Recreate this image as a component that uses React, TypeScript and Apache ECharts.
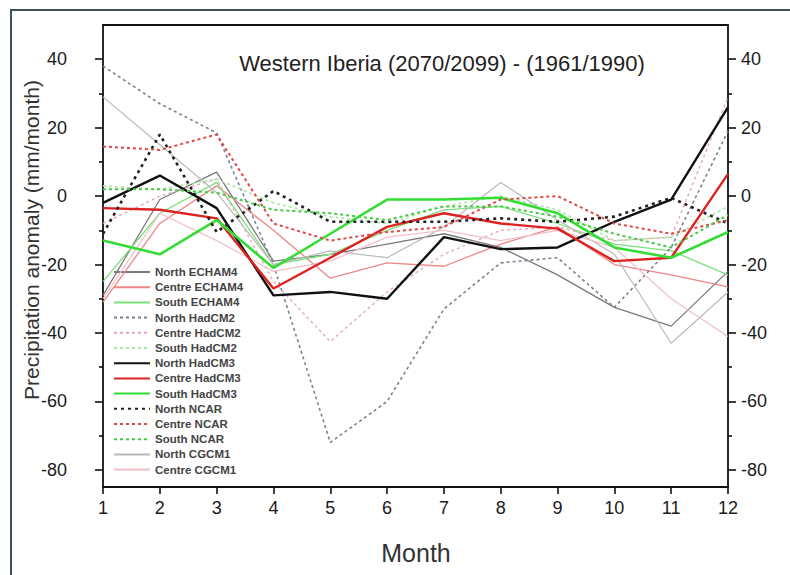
import React, { useEffect, useRef } from 'react';
import * as echarts from 'echarts';

const months = [1, 2, 3, 4, 5, 6, 7, 8, 9, 10, 11, 12];
const yTicks = [-80, -60, -40, -20, 0, 20, 40];

const northECHAM4 = [-29, -1, 7, -19, -17, -14, -11, -15, -23, -32.5, -38, -22];
const centreECHAM4 = [-31, -8, 3, -10, -24, -19.5, -20.5, -14, -9, -20, -23, -26.5];
const southECHAM4 = [-25, -5, 4, -20, -17, -10, -4, -3, -8, -14, -16, -23];
const northHadCM2 = [38, 27, 18.5, -20, -72, -60, -33, -19.5, -18, -32.5, -15, 19];
const centreHadCM2 = [-8, 0, 5, -25, -42.5, -28, -17, -10, -9, -13, -12, 29];
const southHadCM2 = [3, 2, 5, -2, -6, -8, -3, 0, -4, -13, -12, -3];
const northHadCM3 = [-2, 6, -3.5, -29, -28, -30, -12, -15.5, -15, -7.5, -1, 26];
const centreHadCM3 = [-3.5, -4, -6.5, -27, -18, -9, -5, -8, -9.5, -19, -18, 6.5];
const southHadCM3 = [-13, -17, -7, -21, -11, -1, -1, -0.5, -5, -15, -18, -10.5];
const northNCAR = [-11, 18, -10.5, 1.5, -7.5, -7.5, -7.5, -6.5, -7.5, -6, -0.5, -8];
const centreNCAR = [14.5, 13.5, 18, -8, -13, -10.5, -9, -1, 0, -8, -11, -7];
const southNCAR = [2, 2, 1, -4, -5, -7, -3, -3, -6, -11, -15, -5.5];
const northCGCM1 = [29, 15, 1, -20, -16, -18, -9, 4, -7, -17, -43, -28];
const centreCGCM1 = [-30, -5, -13, -22, -19, -12, -10, -13, -10, -15, -30, -41];

const seriesNames = [
  'North ECHAM4', 'Centre ECHAM4', 'South ECHAM4',
  'North HadCM2', 'Centre HadCM2', 'South HadCM2',
  'North HadCM3', 'Centre HadCM3', 'South HadCM3',
  'North NCAR', 'Centre NCAR', 'South NCAR',
  'North CGCM1', 'Centre CGCM1',
];
const seriesValues = [
  northECHAM4, centreECHAM4, southECHAM4,
  northHadCM2, centreHadCM2, southHadCM2,
  northHadCM3, centreHadCM3, southHadCM3,
  northNCAR, centreNCAR, southNCAR,
  northCGCM1, centreCGCM1,
];

// styles per series (same order)
const styles = [
  { color: '#7a7a7a', width: 1.3, dash: 'solid' },
  { color: '#ee8686', width: 1.3, dash: 'solid' },
  { color: '#7ae07a', width: 1.3, dash: 'solid' },
  { color: '#7a8292', width: 1.6, dash: [3, 3] },
  { color: '#e8a8b8', width: 1.4, dash: [3, 3] },
  { color: '#a8e8a0', width: 1.6, dash: [3, 3] },
  { color: '#111111', width: 2.4, dash: 'solid' },
  { color: '#dd2222', width: 2.4, dash: 'solid' },
  { color: '#33dd33', width: 2.6, dash: 'solid' },
  { color: '#222222', width: 2.6, dash: [3, 4] },
  { color: '#e04848', width: 2, dash: [3, 3] },
  { color: '#44cc44', width: 2, dash: [3, 3] },
  { color: '#bababa', width: 1.2, dash: 'solid' },
  { color: '#f0c0c8', width: 1.2, dash: 'solid' },
];

const FONT = 'Liberation Sans, Arial, sans-serif';

export default function App() {
  const ref = useRef<HTMLDivElement>(null);
  useEffect(() => {
    const chart = echarts.init(ref.current!, null, { renderer: 'svg' });
    const series = seriesNames.map((name, k) => ({
      name,
      type: 'line',
      xAxisIndex: 0,
      yAxisIndex: 0,
      symbol: 'none',
      z: 10 + (k >= 6 && k <= 11 ? 5 : 0),
      lineStyle: { color: styles[k].color, width: styles[k].width, type: styles[k].dash },
      itemStyle: { color: styles[k].color },
      data: months.map((m, i) => [m, seriesValues[k][i]]),
    }));

    const tickAxis = (position: string, margin: number) => ({
      gridIndex: 1,
      type: 'value',
      position,
      min: yTicks[0],
      max: yTicks[yTicks.length - 1],
      interval: 20,
      axisLine: { show: false },
      axisTick: { show: true, length: 8, lineStyle: { color: '#111', width: 1.6 } },
      minorTick: { show: true, splitNumber: 2, length: 4, lineStyle: { color: '#111', width: 1.6 } },
      axisLabel: { fontSize: 18, color: '#1a1a1a', fontFamily: FONT, margin },
      splitLine: { show: false },
      minorSplitLine: { show: false },
    });

    chart.setOption({
      animation: false,
      backgroundColor: '#ffffff',
      grid: [
        { left: 103, right: 62, top: 25, bottom: 88 },
        { left: 103, right: 62, top: 59.2, bottom: 105.1 },
      ],
      xAxis: [
        {
          gridIndex: 0, type: 'value', position: 'bottom', min: 1, max: 12, interval: 1,
          axisLine: { show: true, onZero: false, lineStyle: { color: '#111', width: 1.8 } },
          axisTick: { show: true, length: 7, lineStyle: { color: '#111', width: 1.6 } },
          axisLabel: { fontSize: 18, color: '#1a1a1a', fontFamily: FONT, margin: 12 },
          splitLine: { show: false },
        },
        {
          gridIndex: 0, type: 'value', position: 'top', min: 1, max: 12, interval: 1,
          axisLine: { show: true, onZero: false, lineStyle: { color: '#111', width: 1.8 } },
          axisTick: { show: false }, axisLabel: { show: false }, splitLine: { show: false },
        },
        { gridIndex: 1, type: 'value', min: 1, max: 12, show: false },
      ],
      yAxis: [
        {
          gridIndex: 0, type: 'value', position: 'left', min: -85, max: 50,
          axisLine: { show: true, onZero: false, lineStyle: { color: '#111', width: 1.8 } },
          axisTick: { show: false }, axisLabel: { show: false }, splitLine: { show: false },
        },
        {
          gridIndex: 0, type: 'value', position: 'right', min: -85, max: 50,
          axisLine: { show: true, onZero: false, lineStyle: { color: '#111', width: 1.8 } },
          axisTick: { show: false }, axisLabel: { show: false }, splitLine: { show: false },
        },
        tickAxis('left', 36),
        tickAxis('right', 13),
      ],
      legend: {
        orient: 'vertical',
        left: 113,
        top: 266,
        itemWidth: 36,
        itemHeight: 10,
        itemGap: 3.2,
        padding: 0,
        itemStyle: { color: 'transparent', borderWidth: 0, opacity: 0 },
        textStyle: { fontSize: 11.5, fontWeight: 'bold', color: '#444', fontFamily: FONT, lineHeight: 12 },
        data: seriesNames,
      },
      graphic: [
        {
          type: 'rect', z: -1, silent: true,
          shape: { x: 11, y: 10, width: 800, height: 600 },
          style: { fill: 'none', stroke: '#3e4c5e', lineWidth: 2 },
        },
        {
          type: 'text', x: 442, y: 63,
          style: {
            text: 'Western Iberia (2070/2099) - (1961/1990)', fontSize: 22, fontFamily: FONT,
            fill: '#222', textAlign: 'center', textVerticalAlign: 'middle',
          },
        },
        {
          type: 'text', x: 31, y: 240, rotation: Math.PI / 2,
          style: {
            text: 'Precipitation anomaly (mm/month)', fontSize: 21, fontFamily: FONT,
            fill: '#333', textAlign: 'center', textVerticalAlign: 'middle',
          },
        },
        {
          type: 'text', x: 416, y: 553,
          style: {
            text: 'Month', fontSize: 25, fontFamily: FONT,
            fill: '#333', textAlign: 'center', textVerticalAlign: 'middle',
          },
        },
      ],
      series,
    });
    return () => chart.dispose();
  }, []);
  return (
    <div
      ref={ref}
      style={{ position: 'absolute', left: 0, top: 0, width: 790, height: 575, background: '#fff' }}
    />
  );
}
